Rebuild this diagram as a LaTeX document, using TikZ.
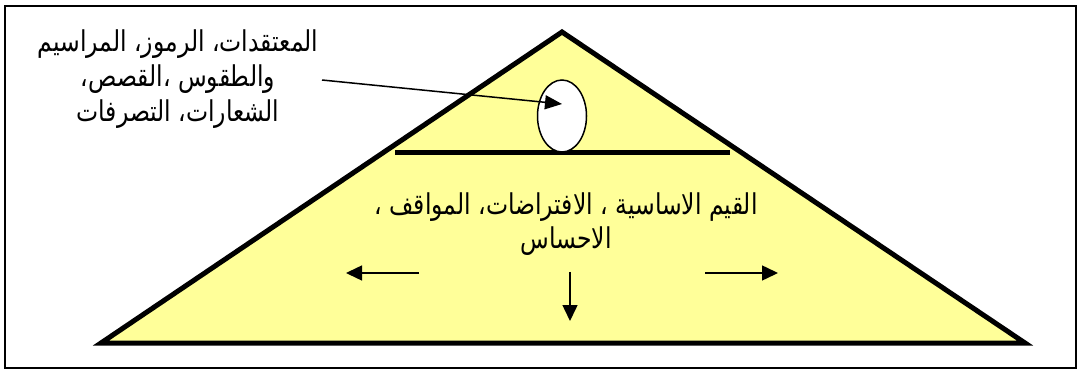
\documentclass[tikz,border=0pt]{standalone}
\usepackage{fontspec}
\newfontfamily\arabicfont[Script=Arabic]{DejaVu Sans}
\TeXXeTstate=1
\usetikzlibrary{shapes.geometric,arrows.meta}
\definecolor{pyellow}{HTML}{FFFF99}
\tikzset{
  arabtext/.style={font=\arabicfont\fontsize{23.5}{28.5}\selectfont, align=center, inner sep=0pt, yscale=1.22, transform shape},
  thinarrow/.style={line width=1.5pt, -{Triangle[length=16pt,width=15pt]}},
}
\begin{document}
\begin{tikzpicture}[x=1pt,y=-1pt]
\useasboundingbox (0,0) rectangle (1081,371);
% frame
\draw[line width=2pt] (5,6) rectangle (1076,368);
% pyramid
\coordinate (apex) at (562,32);
\coordinate (bl) at (101,343);
\coordinate (br) at (1025,343);
\draw[line width=5pt, fill=pyellow, line join=miter] (apex) -- (br) -- (bl) -- cycle;
% divider
\coordinate (dl) at (395,153);
\coordinate (dr) at (730,153);
\draw[line width=5pt] (dl) -- (dr);
% ellipse
\node[ellipse, draw, line width=1.5pt, fill=white, minimum width=49pt, minimum height=72pt, inner sep=0pt] (egg) at (562,116) {};
% top-left text
\node[arabtext] (toptext) at (178,79) {\beginR المعتقدات، الرموز، المراسيم\endR\\\beginR والطقوس ،القصص،\endR\\\beginR الشعارات، التصرفات\endR};
\coordinate (astart) at (322,80);
\coordinate (aend) at (562,104);
\draw[line width=1.5pt, -{Triangle[length=17pt,width=14pt]}] (astart) -- (aend);
% middle text
\node[arabtext] (midtext) at (566,224) {\beginR القيم الاساسية ، الافتراضات، المواقف ،\endR\\\beginR الاحساس\endR};
% arrows
\coordinate (l1) at (419,273);
\coordinate (l2) at (346,273);
\coordinate (r1) at (705,273);
\coordinate (r2) at (778,273);
\coordinate (d1) at (570,272);
\coordinate (d2) at (570,321);
\draw[thinarrow] (l1) -- (l2);
\draw[thinarrow] (r1) -- (r2);
\draw[thinarrow] (d1) -- (d2);
\end{tikzpicture}
\end{document}
